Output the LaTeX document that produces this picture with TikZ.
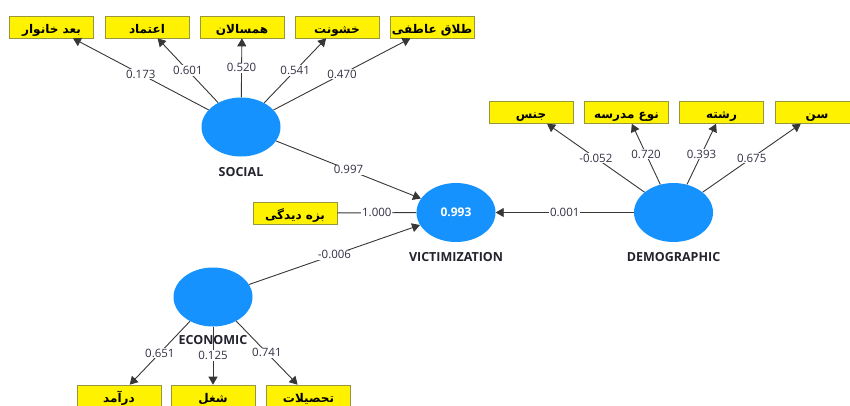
\documentclass[tikz,border=0pt]{standalone}
\usepackage{fontspec}
\setmainfont{Open Sans}
\newfontfamily\fa[Script=Arabic]{DejaVu Sans}
\TeXXeTstate=1
\usetikzlibrary{shapes.geometric,arrows.meta}
\definecolor{lvblue}{RGB}{22,146,255}
\definecolor{boxedge}{RGB}{150,150,60}
\definecolor{linegray}{RGB}{55,55,55}
\definecolor{wtext}{RGB}{50,50,70}
\definecolor{nametext}{RGB}{35,35,45}
\begin{document}
\begin{tikzpicture}[x=1pt,y=-1pt,
 ind/.style={draw=boxedge,line width=0.6pt,fill=yellow,minimum width=84pt,minimum height=22pt,inner sep=0pt,text height=12pt,text depth=0pt,font=\fa\bfseries\fontsize{12}{14}\selectfont},
 lv/.style={ellipse,fill=lvblue,draw=none,minimum width=79pt,minimum height=59pt,inner sep=0pt},
 lvname/.style={font=\bfseries\fontsize{12.5}{14}\selectfont,text=nametext},
 conn/.style={draw=linegray,line width=0.9pt},
 arr/.style={conn,-{Triangle[width=9pt,length=8pt]}},
 wt/.style={fill=white,inner sep=1pt,text=wtext,font=\fontsize{11.5}{13}\selectfont}
]
\useasboundingbox (0,0) rectangle (850,405);
% indicator boxes
\node[ind] (s1) at (51.5,27) {\beginR بعد خانوار\endR};
\node[ind] (s2) at (147,27) {\beginR اعتماد\endR};
\node[ind] (s3) at (242,27) {\beginR همسالان\endR};
\node[ind] (s4) at (337,27) {\beginR خشونت\endR};
\node[ind] (s5) at (432,27) {\beginR طلاق عاطفی\endR};
\node[ind] (d1) at (531,112.5) {\beginR جنس\endR};
\node[ind] (d2) at (626.5,112.5) {\beginR نوع مدرسه\endR};
\node[ind] (d3) at (721.5,112.5) {\beginR رشته\endR};
\node[ind] (d4) at (817,112.5) {\beginR سن\endR};
\node[ind] (bz) at (295,213) {\beginR بزه دیدگی\endR};
\node[ind] (e1) at (119,396) {\beginR درآمد\endR};
\node[ind] (e2) at (213,396) {\beginR شغل\endR};
\node[ind] (e3) at (308.5,396) {\beginR تحصیلات\endR};
% latent variables
\node[lv] (soc) at (241,127) {};
\node[lv] (dem) at (673.5,212.5) {};
\node[lv,text=white,font=\bfseries\fontsize{12}{14}\selectfont] (vic) at (456,212.5) {0.993};
\node[lv] (eco) at (213,297) {};
% connectors
\draw[arr] (soc) -- node[wt]{0.173} (s1);
\draw[arr] (soc) -- node[wt]{0.601} (s2);
\draw[arr] (soc) -- node[wt]{0.520} (s3);
\draw[arr] (soc) -- node[wt]{0.541} (s4);
\draw[arr] (soc) -- node[wt]{0.470} (s5);
\draw[arr] (dem) -- node[wt]{-0.052} (d1);
\draw[arr] (dem) -- node[wt]{0.720} (d2);
\draw[arr] (dem) -- node[wt]{0.393} (d3);
\draw[arr] (dem) -- node[wt]{0.675} (d4);
\draw[arr] (eco) -- node[wt]{0.651} (e1);
\draw[arr] (eco) -- node[wt]{0.125} (e2);
\draw[arr] (eco) -- node[wt]{0.741} (e3);
\draw[arr] (soc) -- node[wt]{0.997} (vic);
\draw[arr] (eco) -- node[wt]{-0.006} (vic);
\draw[arr] (dem) -- node[wt]{0.001} (vic);
\draw[conn] (bz) -- node[wt]{1.000} (vic);
% names
\node[lvname] (socn) at (241,172) {SOCIAL};
\node[lvname] (demn) at (673.5,257) {DEMOGRAPHIC};
\node[lvname] (vicn) at (456,257) {VICTIMIZATION};
\node[lvname] (econ) at (213,340) {ECONOMIC};
\end{tikzpicture}
\end{document}
